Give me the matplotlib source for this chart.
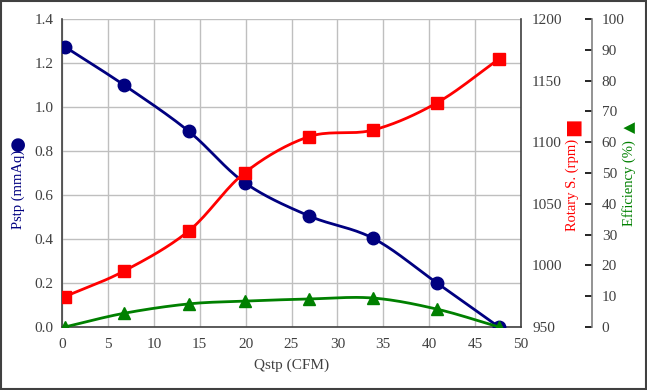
import numpy as np
import matplotlib
matplotlib.use('Agg')
from matplotlib import pyplot as plt
from matplotlib.patches import Rectangle

#------------------------------------------------------------
# Data
qstp = [0.3, 6.75, 13.8, 19.9, 26.9, 33.9, 40.85, 47.6]
pstp = [1.274, 1.10, 0.89, 0.656, 0.505, 0.403, 0.20, 0.0]
rpm = [974.6, 995.4, 1027.9, 1075.2, 1104.5, 1109.9, 1132.0, 1167.5]
eff = [0.0, 4.45, 7.5, 8.4, 9.1, 9.4, 5.8, 0.0]

x_ticks = [0, 5, 10, 15, 20, 25, 30, 35, 40, 45, 50]
p_ticks = [0.0, 0.2, 0.4, 0.6, 0.8, 1.0, 1.2, 1.4]
rpm_ticks = [950, 1000, 1050, 1100, 1150, 1200]
eff_ticks = [0, 10, 20, 30, 40, 50, 60, 70, 80, 90, 100]

plt.rcParams['font.family'] = ['Liberation Serif', 'DejaVu Sans']
plt.rcParams['font.size'] = 11


def smooth(x, y, n=20):
    # Catmull-Rom curve through the points, like a spreadsheet "smoothed line"
    x = np.asarray(x, float)
    y = np.asarray(y, float)
    px = np.concatenate([[2 * x[0] - x[1]], x, [2 * x[-1] - x[-2]]])
    py = np.concatenate([[2 * y[0] - y[1]], y, [2 * y[-1] - y[-2]]])
    t = np.linspace(0, 1, n)[:, None]
    xs, ys = [], []
    for i in range(1, len(px) - 2):
        for p, out in ((px, xs), (py, ys)):
            p0, p1, p2, p3 = p[i - 1], p[i], p[i + 1], p[i + 2]
            seg = 0.5 * ((2 * p1) + (-p0 + p2) * t
                         + (2 * p0 - 5 * p1 + 4 * p2 - p3) * t ** 2
                         + (-p0 + 3 * p1 - 3 * p2 + p3) * t ** 3)
            out.append(seg.ravel())
    return np.concatenate(xs), np.concatenate(ys)


fig = plt.figure(figsize=(6.47, 3.90), dpi=100)
ax = fig.add_axes([62 / 647, 1 - 327 / 390, 459 / 647, 308 / 390])
ax2 = ax.twinx()
ax3 = ax.twinx()

navy = '#000080'
red = '#ff0000'
green = '#008000'
dark = '#404040'

# Pstp
sx, sy = smooth(qstp, pstp)
ax.plot(sx, sy, color=navy, lw=2.0, zorder=3)
ax.plot(qstp, pstp, 'o', color=navy, ms=9, zorder=4)
ax.set_xlim(0, 50)
ax.set_ylim(0, 1.4)
ax.set_xticks(x_ticks)
ax.set_yticks(p_ticks)
ax.set_yticklabels(['%.1f' % v for v in p_ticks])
ax.grid(True, color='#bfbfbf', lw=1.0)
ax.set_axisbelow(True)
ax.tick_params(length=0, colors='#404040', labelsize=11, pad=6)
ax.tick_params(axis='x', pad=8)
ax.set_xlabel('Qstp (CFM)', color='#404040', fontsize=11, labelpad=5)
for s in ['left', 'bottom', 'right']:
    ax.spines[s].set_color(dark)
    ax.spines[s].set_linewidth(1.2)
ax.spines['top'].set_visible(False)

# Rotary speed
sx, sy = smooth(qstp, rpm)
ax2.plot(sx, sy, color=red, lw=2.0, zorder=3)
ax2.plot(qstp, rpm, 's', color=red, ms=9, zorder=4)
ax2.set_ylim(950, 1200)
ax2.set_yticks(rpm_ticks)
ax2.tick_params(length=0, colors='#404040', labelsize=11, pad=8)
for s in ['left', 'bottom', 'top', 'right']:
    ax2.spines[s].set_visible(False)

# Efficiency
sx, sy = smooth(qstp, eff)
ax3.plot(sx, sy, color=green, lw=2.0, zorder=3)
ax3.plot(qstp, eff, '^', color=green, ms=9, zorder=4)
ax3.set_ylim(0, 100)
ax3.set_yticks(eff_ticks)
ax3.spines['right'].set_position(('axes', (592 - 62) / 459))
ax3.spines['right'].set_color('#808080')
ax3.spines['right'].set_linewidth(1.2)
for s in ['left', 'bottom', 'top']:
    ax3.spines[s].set_visible(False)
ax3.tick_params(direction='in', length=5, width=1.2, color='black',
                labelcolor='#404040', labelsize=11, pad=7)

# Axis titles with their marker symbols
fig.text(18 / 647, 1 - 189 / 390, 'Pstp (mmAq)', rotation=90, color=navy,
         fontsize=10.5, ha='center', va='center')
fig.text(18 / 647, 1 - 143 / 390, '\u25cf', rotation=90, color=navy,
         fontsize=13, ha='center', va='center', family='DejaVu Sans')
fig.text(572 / 647, 1 - 185 / 390, 'Rotary S. (rpm)', rotation=90, color=red,
         fontsize=10.5, ha='center', va='center')
fig.text(572 / 647, 1 - 127 / 390, '\u25a0', rotation=90, color=red,
         fontsize=14, ha='center', va='center', family='DejaVu Sans')
fig.text(629 / 647, 1 - 183 / 390, 'Efficiency (%)', rotation=90, color=green,
         fontsize=10.5, ha='center', va='center')
fig.text(630 / 647, 1 - 127 / 390, '\u25b2', rotation=90, color=green,
         fontsize=11, ha='center', va='center', family='DejaVu Sans')

# frame round the whole picture
fig.patches.append(Rectangle((0.001, 0.002), 0.997, 0.995, transform=fig.transFigure,
                             fill=False, edgecolor=dark, lw=1.5))

fig.savefig('out.png', dpi=100)
